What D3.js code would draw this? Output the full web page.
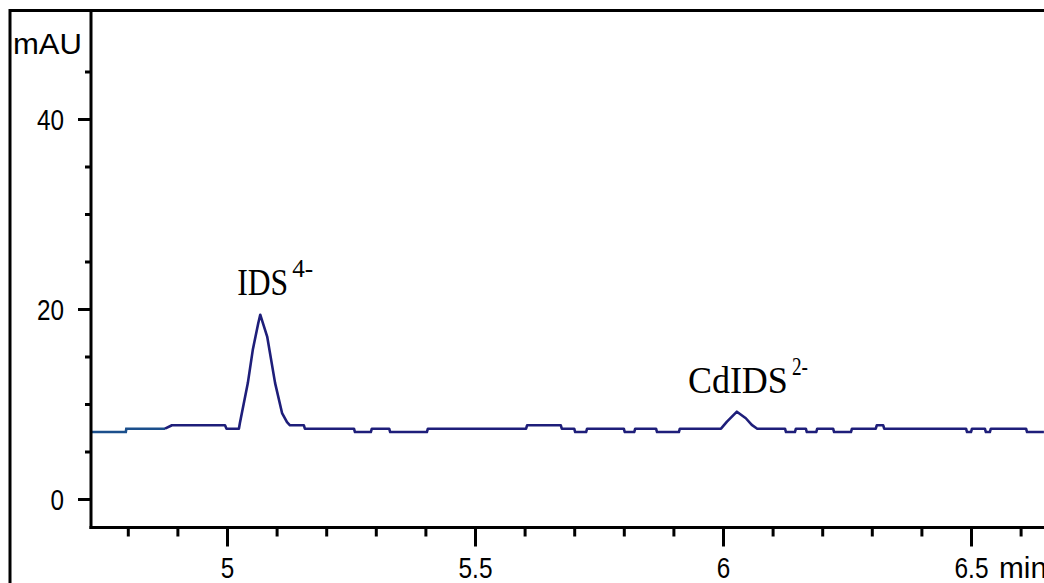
<!DOCTYPE html>
<html>
<head>
<meta charset="utf-8">
<script src="https://cdn.jsdelivr.net/npm/d3@7"></script>
<style>
  html, body { margin: 0; padding: 0; background: #ffffff; }
  svg { display: block; }
  .num { font-family: 'Liberation Sans Narrow', 'Arial Narrow', 'Liberation Sans', sans-serif; font-size: 29px; fill: #000; }
  .peak { font-family: 'Liberation Serif', 'Times New Roman', serif; fill: #000; }
</style>
</head>
<body>
<script>
// ---- data ----
const traceTime = [4.726, 4.796, 4.797, 4.875, 4.889, 4.996, 4.999, 5.024, 5.026, 5.042, 5.052, 5.063, 5.067,
  5.081, 5.097, 5.111, 5.121, 5.127, 5.155, 5.157, 5.256, 5.258, 5.290, 5.292, 5.327, 5.329, 5.403, 5.405,
  5.603, 5.605, 5.673, 5.675, 5.700, 5.702, 5.724, 5.726, 5.800, 5.802, 5.821, 5.823, 5.865, 5.867, 5.911,
  5.913, 5.996, 6.008, 6.028, 6.046, 6.058, 6.069, 6.125, 6.127, 6.145, 6.147, 6.167, 6.169, 6.188, 6.190,
  6.222, 6.224, 6.258, 6.260, 6.308, 6.310, 6.323, 6.325, 6.490, 6.492, 6.500, 6.502, 6.528, 6.530, 6.538,
  6.540, 6.611, 6.613, 6.647];
const traceAbs = [7.05, 7.05, 7.40, 7.40, 7.76, 7.76, 7.40, 7.40, 8.0, 12.2, 15.7, 18.5, 19.4,
  17.1, 12.2, 9.05, 8.1, 7.76, 7.76, 7.40, 7.40, 7.05, 7.05, 7.40, 7.40, 7.05, 7.05, 7.40,
  7.40, 7.76, 7.76, 7.40, 7.40, 7.05, 7.05, 7.40, 7.40, 7.05, 7.05, 7.40, 7.40, 7.05, 7.05,
  7.40, 7.40, 8.14, 9.19, 8.5, 7.8, 7.40, 7.40, 7.05, 7.05, 7.40, 7.40, 7.05, 7.05, 7.40,
  7.40, 7.05, 7.05, 7.40, 7.40, 7.76, 7.76, 7.40, 7.40, 7.05, 7.05, 7.40, 7.40, 7.05, 7.05,
  7.40, 7.40, 7.05, 7.05];
const colourSplitTime = 4.875;   // trace is drawn in a lighter blue before this time
const yMajorTicks = [0, 20, 40];
const yMinorTicks = [5, 10, 15, 25, 30, 35, 45];
const xMajorTicks = [5, 5.5, 6, 6.5];
const xMinorTicks = [4.8, 4.9, 5.1, 5.2, 5.3, 5.4, 5.6, 5.7, 5.8, 5.9, 6.1, 6.2, 6.3, 6.4, 6.6];
const xTickLabels = ["5", "5.5", "6", "6.5"];
const yUnit = "mAU";
const xUnit = "min";
const peakLabels = [
  { name: "IDS", charge: "4-", t: 5.067, v: 19.4 },
  { name: "CdIDS", charge: "2-", t: 6.028, v: 9.19 }
];

// ---- layout ----
const W = 1044, H = 583;
const axisX = 91, axisY = 527.5, topY = 10.5;

const x = d3.scaleLinear().domain([5, 6]).range([227, 723]);
const y = d3.scaleLinear().domain([0, 40]).range([499, 119]);

// condensed look for the numeric labels (digit ~13.5px wide, dot ~7px)
const narrowLen = s => s.split("").reduce((a, c) => a + (c === "." ? 7 : 13.5), 0);

const svg = d3.select("body").append("svg").attr("width", W).attr("height", H);

// outer frame (left and top)
svg.append("line").attr("x1", 10).attr("x2", 10).attr("y1", 9).attr("y2", H)
  .attr("stroke", "#000").attr("stroke-width", 3);
svg.append("line").attr("x1", 9).attr("x2", W).attr("y1", topY).attr("y2", topY)
  .attr("stroke", "#000").attr("stroke-width", 3);

// clip for the trace
svg.append("clipPath").attr("id", "plotclip").append("rect")
  .attr("x", axisX).attr("y", topY).attr("width", W - axisX).attr("height", axisY - topY);

// trace
const pts = traceTime.map((t, i) => ({ t, v: traceAbs[i] }));
const line = d3.line().x(d => x(d.t)).y(d => y(d.v));
const splitIdx = traceTime.indexOf(colourSplitTime);
const g = svg.append("g").attr("clip-path", "url(#plotclip)");
g.append("path").datum(pts.slice(0, splitIdx + 1)).attr("d", line)
  .attr("fill", "none").attr("stroke", "#1b4f8c").attr("stroke-width", 2.6);
g.append("path").datum(pts.slice(splitIdx)).attr("d", line)
  .attr("fill", "none").attr("stroke", "#1e1e7a").attr("stroke-width", 2.6)
  .attr("stroke-linejoin", "round");

// y axis: minor ticks
const yMinor = svg.append("g").attr("transform", `translate(${axisX},0)`)
  .call(d3.axisLeft(y).tickValues(yMinorTicks).tickSize(6).tickFormat(""));
yMinor.select(".domain").remove();
yMinor.selectAll(".tick line").attr("stroke-width", 3).attr("stroke", "#000");

// y axis: major ticks with labels
const yMajor = svg.append("g").attr("transform", `translate(${axisX},0)`)
  .call(d3.axisLeft(y).tickValues(yMajorTicks).tickSize(13).tickPadding(14).tickFormat(d3.format("d")));
yMajor.select(".domain").remove();
yMajor.selectAll(".tick line").attr("stroke-width", 3).attr("stroke", "#000");
yMajor.selectAll(".tick text").attr("class", "num").attr("font-family", null).attr("font-size", null)
  .attr("dy", "0.36em")
  .attr("textLength", function () { return narrowLen(this.textContent); })
  .attr("lengthAdjust", "spacingAndGlyphs");

// x axis: minor ticks
const xMinor = svg.append("g").attr("transform", `translate(0,${axisY})`)
  .call(d3.axisBottom(x).tickValues(xMinorTicks).tickSize(9).tickFormat(""));
xMinor.select(".domain").remove();
xMinor.selectAll(".tick line").attr("stroke-width", 3).attr("stroke", "#000");

// x axis: major ticks with labels
const xMajor = svg.append("g").attr("transform", `translate(0,${axisY})`)
  .call(d3.axisBottom(x).tickValues(xMajorTicks).tickSize(19)
    .tickFormat((d, i) => xTickLabels[i]));
xMajor.select(".domain").remove();
xMajor.selectAll(".tick line").attr("stroke-width", 3).attr("stroke", "#000");
xMajor.selectAll(".tick text").attr("class", "num").attr("font-family", null).attr("font-size", null)
  .attr("y", 50.5).attr("dy", 0)
  .attr("textLength", function () { return narrowLen(this.textContent); })
  .attr("lengthAdjust", "spacingAndGlyphs");

// axis lines
svg.append("line").attr("x1", axisX).attr("x2", axisX).attr("y1", 9).attr("y2", axisY + 1.5)
  .attr("stroke", "#000").attr("stroke-width", 3);
svg.append("line").attr("x1", axisX - 1.5).attr("x2", W).attr("y1", axisY).attr("y2", axisY)
  .attr("stroke", "#000").attr("stroke-width", 3);

// units
svg.append("text").attr("class", "num").attr("x", 13).attr("y", 54)
  .attr("textLength", 69).attr("lengthAdjust", "spacingAndGlyphs").text(yUnit);
svg.append("text").attr("class", "num").attr("x", x(6.5) + 28).attr("y", 578)
  .attr("textLength", 48).attr("lengthAdjust", "spacingAndGlyphs").text(xUnit);

// peak labels
const labelOffsets = [{ dx: -23, dy: -20, w: 51, sw: 21 }, { dx: -49, dy: -19, w: 100, sw: 16 }];
peakLabels.forEach((p, i) => {
  const o = labelOffsets[i];
  const lx = x(p.t) + o.dx, ly = y(p.v) + o.dy;
  svg.append("text").attr("class", "peak").attr("x", lx).attr("y", ly)
    .attr("font-size", 38).attr("textLength", o.w).attr("lengthAdjust", "spacingAndGlyphs")
    .text(p.name);
  svg.append("text").attr("class", "peak").attr("x", lx + o.w + 4).attr("y", ly - 18)
    .attr("font-size", 26).attr("textLength", o.sw).attr("lengthAdjust", "spacingAndGlyphs")
    .text(p.charge);
});
</script>
</body>
</html>
